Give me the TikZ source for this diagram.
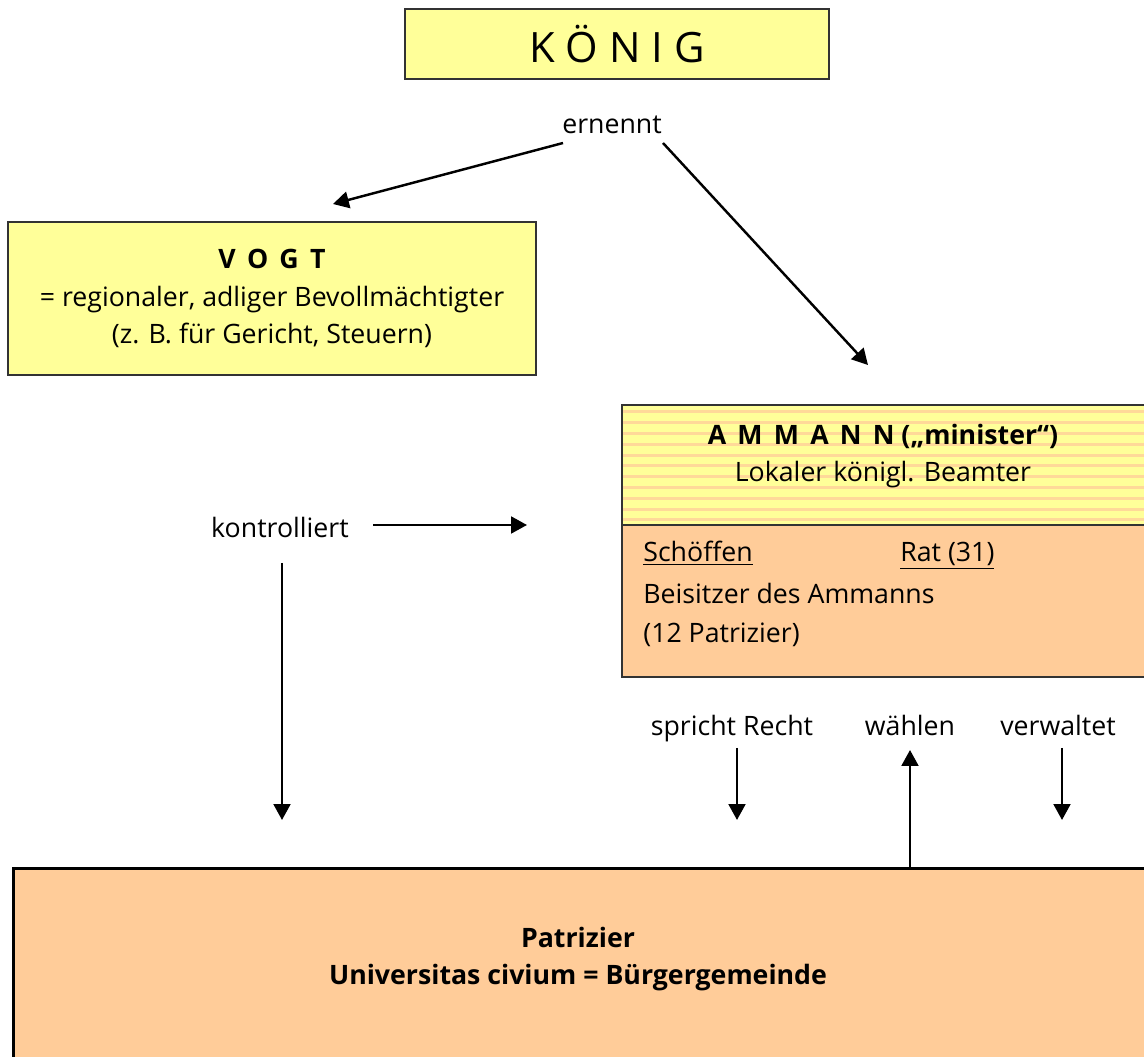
\documentclass[tikz,border=0pt]{standalone}
\usepackage{fontspec}
\setmainfont{Open Sans}
\usepackage{tikz}
\usetikzlibrary{arrows.meta}

\definecolor{boxyellow}{HTML}{FFFF99}
\definecolor{boxpeach}{HTML}{FFCC99}
\definecolor{boxline}{HTML}{333333}
\colorlet{stripe}{boxpeach!75!boxyellow}

\newcommand{\spacedcaps}[1]{{\spaceskip=0.42em\relax #1}}

\begin{document}
\begin{tikzpicture}[x=0.02cm,y=-0.02cm,
  txt/.style={font=\fontsize{15.2}{21.5}\selectfont,inner sep=0pt},
  ybox/.style={rectangle,draw=boxline,line width=1.1pt,fill=boxyellow,inner sep=0pt,outer sep=0pt},
  pbox/.style={rectangle,draw=boxline,line width=1.1pt,fill=boxpeach,inner sep=0pt,outer sep=0pt},
  arr/.style={-{Triangle[length=9pt,width=9.5pt]},line width=1.4pt}]
\clip (0,0) rectangle (1144,1057);

% Koenig
\node[ybox,minimum width=8.48cm,minimum height=1.4cm,font=\fontsize{23.8}{28}\selectfont] (koenig) at (617,44) {K Ö N I G};
\node[txt] (ernennt) at (612,125) {ernennt};

% Vogt
\node[ybox,minimum width=10.56cm,minimum height=3.06cm,align=center,txt] (vogt) at (272,298.5)
  {\textbf{\spacedcaps{V O G T}}\\= regionaler, adliger Bevollmächtigter\\(z. B. für Gericht, Steuern)};

% Ammann (striped top part)
\node[ybox,minimum width=10.56cm,minimum height=2.4cm] (ammann) at (886,465) {};
\foreach \k in {0,...,10}
  \fill[stripe] (623,410.5+\k*10.8) rectangle (1144,413.5+\k*10.8);
\node[pbox,minimum width=10.56cm,minimum height=3.04cm] (rat) at (886,601) {};
\node[txt,align=center] (ammanntext) at (883,456) {\textbf{\spacedcaps{A M M A N N} („minister“)}\\Lokaler königl. Beamter};
\node[txt,anchor=base west] (schoeffen) at (643,562) {\underline{Schöffen}};
\node[txt,anchor=base west] (ratzahl) at (900,562) {\underline{Rat (31)}};
\node[txt,anchor=west,align=left] (beisitzer) at (643,615) {Beisitzer des Ammanns\\[1pt](12 Patrizier)};

% Kontrolle
\node[txt] (kontrolliert) at (280,527) {kontrolliert};

% Labels below Ammann
\node[txt,anchor=base] (recht) at (732,736) {spricht Recht};
\node[txt,anchor=base] (waehlen) at (910,736) {wählen};
\node[txt,anchor=base] (verwaltet) at (1058,736) {verwaltet};

% Patrizier
\node[rectangle,draw=black,line width=1.7pt,fill=boxpeach,minimum width=22.74cm,minimum height=3.88cm] (patrizier) at (581.5,965) {};
\node[txt,align=center,font=\fontsize{15.2}{21.5}\selectfont\bfseries] (patriziertext) at (578,959) {Patrizier\\Universitas civium = Bürgergemeinde};

% Arrow ends
\coordinate (e1) at (563,143);
\coordinate (e2) at (663,143);
\coordinate (vogtin) at (333,204);
\coordinate (ammannin) at (868,365);
\coordinate (k1) at (373,525);
\coordinate (k2) at (527,525);
\coordinate (k3) at (282,563);
\coordinate (k4) at (282,820);
\coordinate (r1) at (737,748);
\coordinate (r2) at (737,820);
\coordinate (w1) at (910,868);
\coordinate (w2) at (910,750);
\coordinate (v1) at (1062,748);
\coordinate (v2) at (1062,820);

% Arrows
\draw[arr] (e1) -- (vogtin);
\draw[arr] (e2) -- (ammannin);
\draw[arr] (k1) -- (k2);
\draw[arr] (k3) -- (k4);
\draw[arr] (r1) -- (r2);
\draw[arr] (w1) -- (w2);
\draw[arr] (v1) -- (v2);
\end{tikzpicture}
\end{document}
